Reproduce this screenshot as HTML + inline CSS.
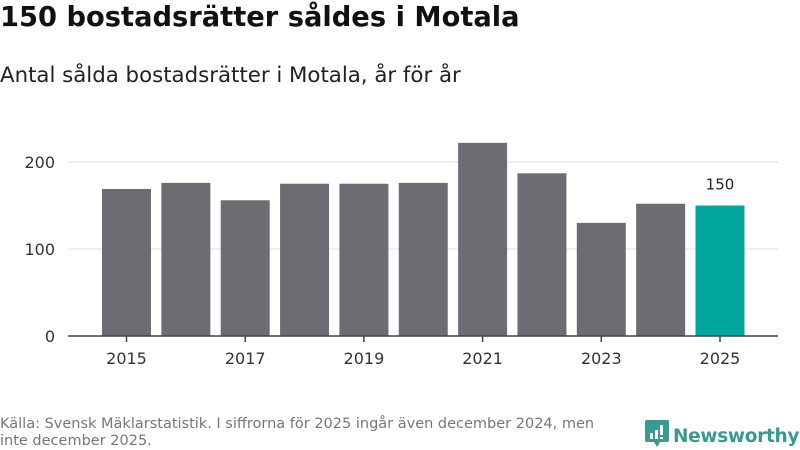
<!DOCTYPE html>
<html><head><meta charset="utf-8"><style>
body{margin:0;width:800px;height:450px;background:#fff;font-family:"DejaVu Sans","Liberation Sans",sans-serif;overflow:hidden;position:relative}
.t{position:absolute;left:0;top:2px;font-size:27.3px;font-weight:bold;color:#111;white-space:nowrap}
.s{position:absolute;left:0;top:63px;font-size:21.3px;color:#222;white-space:nowrap}
.f{position:absolute;left:0;top:416px;font-size:14.5px;color:#777;line-height:17px;width:636px;white-space:nowrap}
.logo{position:absolute;left:645px;top:420px;font-size:18.5px;font-weight:bold;color:#3a9a93;white-space:nowrap;letter-spacing:-0.3px}
</style></head><body>
<div class="t">150 bostadsrätter såldes i Motala</div>
<div class="s">Antal sålda bostadsrätter i Motala, år för år</div>
<svg id="c" width="800" height="450" style="position:absolute;left:0;top:0"></svg>
<div class="f">Källa: Svensk Mäklarstatistik. I siffrorna för 2025 ingår även december 2024, men<br>inte december 2025.</div>
<div class="logo"><svg width="24" height="28" style="vertical-align:-6px;margin-right:4px" viewBox="0 0 24 28"><path d="M2 0H22Q24 0 24 2V20Q24 22 22 22H15L12 27L9 22H2Q0 22 0 20V2Q0 0 2 0Z" fill="#3a9a93"/><rect x="5" y="13" width="3" height="6" fill="#fff"/><rect x="10" y="10" width="3" height="9" fill="#fff"/><rect x="15" y="5" width="3" height="10" fill="#fff"/><rect x="15" y="17" width="3" height="2" fill="#fff"/></svg>Newsworthy</div>
<script>
const years=[2015,2016,2017,2018,2019,2020,2021,2022,2023,2024,2025];
const values=[169,176,156,175,175,176,222,187,130,152,150];
const yTicks=[0,100,200];
const NS="http://www.w3.org/2000/svg";
const svg=document.getElementById('c');
const x=i=>126.5+i*59.35;
const y=v=>336-v*0.87;
function mk(t,a){const e=document.createElementNS(NS,t);for(const k in a)e.setAttribute(k,a[k]);svg.appendChild(e);return e;}
yTicks.forEach(v=>{
 if(v>0){const g=mk('line',{x1:68,x2:778,y1:y(v),y2:y(v),stroke:'#ddd','stroke-width':1});
 
 }
 const t=mk('text',{x:55,y:y(v)+6,'text-anchor':'end','font-size':16,fill:'#333','font-family':'DejaVu Sans,sans-serif'});
 t.textContent=v;
 
 
});
values.forEach((v,i)=>{
 const last=i===values.length-1;
 const r=mk('rect',{x:x(i)-24.5,y:y(v),width:49,height:y(0)-y(v),fill:last?'#00a59b':'#6d6c72'});
 
 
 if(last){const t=mk('text',{x:x(i),y:y(v)-16,'text-anchor':'middle','font-size':15,fill:'#222','font-family':'DejaVu Sans,sans-serif'});t.textContent=v;
 
 }
 if(i%2===0){
  const tk=mk('line',{x1:x(i),x2:x(i),y1:336,y2:342,stroke:'#444','stroke-width':1.5});
  
  
  const t=mk('text',{x:x(i),y:364,'text-anchor':'middle','font-size':16,fill:'#333','font-family':'DejaVu Sans,sans-serif'});t.textContent=years[i];
  
  
 }
});
const ax=mk('line',{x1:68,x2:778,y1:336,y2:336,stroke:'#444','stroke-width':1.5});


</script>
</body></html>
